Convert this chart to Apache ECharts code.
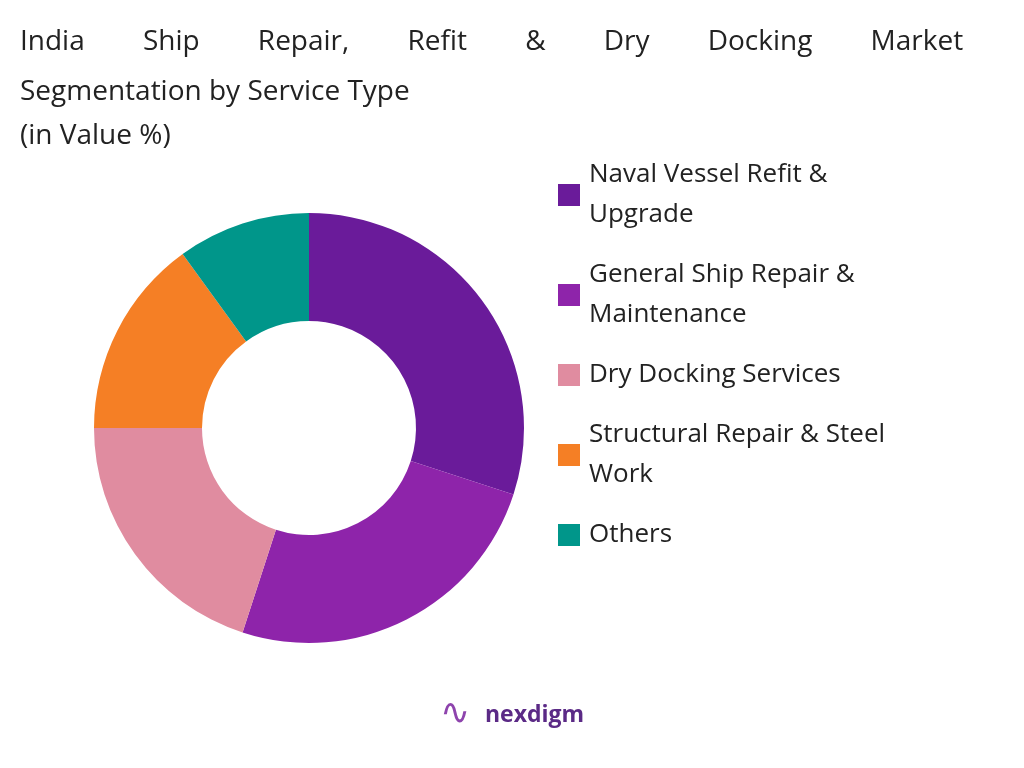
<!DOCTYPE html><html><head><meta charset="utf-8">
<script src="https://cdn.jsdelivr.net/npm/echarts@6/dist/echarts.min.js"></script>
<style>body{margin:0}#c{width:1024px;height:768px}</style></head><body><div id="c"></div>
<script>
const categories=["Naval Vessel Refit & Upgrade","General Ship Repair & Maintenance","Dry Docking Services","Structural Repair & Steel Work","Others"];
const legendLabels=["Naval Vessel Refit &\nUpgrade","General Ship Repair &\nMaintenance","Dry Docking Services","Structural Repair & Steel\nWork","Others"];
const values=[30,25,20,15,10];
const colors=["#6a1b9a","#8e24aa","#e08ca0","#f57f25","#00968a"];
const titleWords=["India","Ship","Repair,","Refit","&","Dry","Docking","Market"];
const chart=echarts.init(document.getElementById('c'));
const tf={fontFamily:"Open Sans",fontSize:28,fill:'#222'};
chart.setOption({
 color:colors,
 title:{text:"Segmentation by Service Type\n(in Value %)",left:15,top:65,
  textStyle:{fontFamily:"Open Sans",fontWeight:'normal',fontSize:28,lineHeight:44,color:'#222'}},
 legend:{orient:'vertical',left:553,top:150,itemWidth:22,itemHeight:22,itemGap:20,icon:'rect',
  formatter:n=>legendLabels[categories.indexOf(n)],
  textStyle:{fontFamily:"Open Sans",fontSize:26,lineHeight:40,color:'#222',padding:[0,0,0,4]}},
 graphic:[
  {type:'group',left:20,top:28,children:[{type:'text',style:Object.assign({text:titleWords.join('        ')},tf)}]},
  {type:'text',left:485,top:704,style:{text:'nexdigm',fontFamily:'Open Sans',fontWeight:'bold',fontSize:23,fill:'#5b2a86'}},
  {type:'text',left:440,top:696,style:{text:'∿',fontSize:36,fill:'#8e44ad'}}],
 series:[{type:'pie',center:[309,428],radius:[107,215],startAngle:90,clockwise:true,label:{show:false},
  data:categories.map((c,i)=>({name:c,value:values[i]}))}]
});
</script></body></html>
